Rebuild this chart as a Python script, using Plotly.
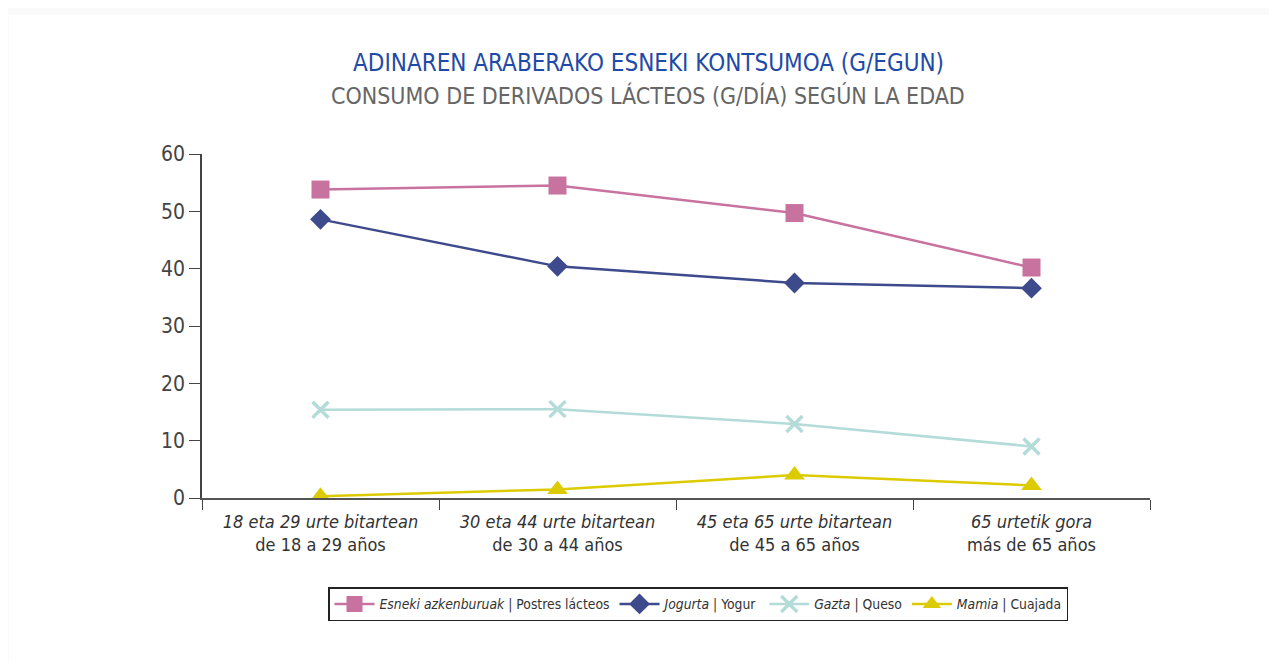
import plotly.graph_objects as go

categories = [
    "<i>18 eta 29 urte bitartean</i><br>de 18 a 29 años",
    "<i>30 eta 44 urte bitartean</i><br>de 30 a 44 años",
    "<i>45 eta 65 urte bitartean</i><br>de 45 a 65 años",
    "<i>65 urtetik gora</i><br>más de 65 años",
]
postres = [53.8, 54.5, 49.7, 40.2]
yogur = [48.6, 40.4, 37.5, 36.6]
queso = [15.4, 15.5, 12.9, 9.0]
cuajada = [0.3, 1.5, 4.0, 2.2]

names = [
    "<i>Esneki azkenburuak</i> | Postres lácteos",
    "<i>Jogurta</i> | Yogur",
    "<i>Gazta</i> | Queso",
    "<i>Mamia</i> | Cuajada",
]
colors = ["#c8739f", "#3d4a8c", "#b3dcd9", "#dccb00"]
symbols = ["square", "diamond", "x-thin", "triangle-up"]
sizes = [18, 16, 16, 18]

FONT = "DejaVu Sans Condensed, Liberation Sans Narrow, Roboto, sans-serif"

# page body offset of 8px compensated in margins
OFF = 8
L, T, PW, PH = 202 - OFF, 154 - OFF, 948, 344
W, H = 1277, 662

fig = go.Figure()
for vals, nm, c, s, sz in zip([postres, yogur, queso, cuajada], names, colors, symbols, sizes):
    marker = dict(symbol=s, size=sz, color=c)
    if s == "x-thin":
        marker["line"] = dict(color=c, width=3.5)
    fig.add_trace(go.Scatter(
        x=categories, y=vals, name=nm, mode="lines+markers",
        line=dict(color=c, width=2.5), marker=marker,
    ))

def px_x(x):
    return (x - OFF - L) / PW

def px_y(y):
    return (T + PH - (y - OFF)) / PH

fig.update_layout(
    width=W, height=H,
    margin=dict(l=L, r=W - L - PW, t=T, b=H - T - PH),
    paper_bgcolor="#fafafa", plot_bgcolor="white",
    font=dict(family=FONT, color="#333"),
    showlegend=True,
    legend=dict(
        orientation="h", x=px_x(698), xanchor="center", y=px_y(587), yanchor="top",
        bordercolor="#222", borderwidth=1.5, bgcolor="white",
        font=dict(size=13.8, color="#333", family=FONT),
        itemwidth=40, tracegroupgap=0,
    ),
    xaxis=dict(
        type="category", range=[-0.5, 3.5], tickson="boundaries",
        ticks="outside", ticklen=10, tickwidth=1.2, tickcolor="#444",
        showline=True, linecolor="#555", linewidth=2, showgrid=False,
        tickfont=dict(size=18, color="#333", family=FONT), zeroline=False,
        ticklabelstandoff=6,
    ),
    yaxis=dict(
        range=[0, 60], dtick=10, ticks="outside", ticklen=11, tickwidth=1.2,
        tickcolor="#444", showline=True, linecolor="#444", linewidth=1.5,
        showgrid=False, zeroline=False,
        tickfont=dict(size=21, color="#444", family=FONT),
    ),
    shapes=[dict(
        type="rect", xref="paper", yref="paper", layer="below",
        x0=px_x(9), x1=px_x(1290),
        y0=px_y(680), y1=px_y(15),
        fillcolor="white", line=dict(width=0),
    )],
    annotations=[
        dict(text="ADINAREN ARABERAKO ESNEKI KONTSUMOA (G/EGUN)", xref="paper", yref="paper",
             x=px_x(648), y=px_y(63), showarrow=False,
             font=dict(size=24, color="#1f4aa8", family=FONT), xanchor="center", yanchor="middle"),
        dict(text="CONSUMO DE DERIVADOS LÁCTEOS (G/DÍA) SEGÚN LA EDAD", xref="paper", yref="paper",
             x=px_x(648), y=px_y(96), showarrow=False,
             font=dict(size=23, color="#666", family=FONT), xanchor="center", yanchor="middle"),
    ],
)

fig.write_html("out.html")
